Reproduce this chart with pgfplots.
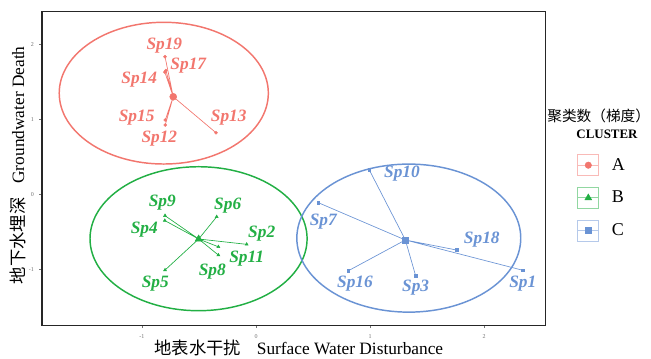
\documentclass[border=0pt]{standalone}
\usepackage{pgfplots}
\pgfplotsset{compat=1.18}
\usepackage{fontspec}
\setmainfont{Liberation Serif}
\newfontfamily\cjk{Noto Sans CJK SC}
\definecolor{cA}{HTML}{F2766E}
\definecolor{cB}{HTML}{22AF44}
\definecolor{cC}{HTML}{6A93D4}
\newcommand{\lab}{\fontsize{13}{15}\selectfont\bfseries\itshape}
\begin{document}
\begin{tikzpicture}
\begin{axis}[
  at={(31.5pt,24.5pt)}, anchor=south west,
  scale only axis, width=377.8pt, height=235.5pt,
  xmin=-1.877, xmax=2.541, ymin=-1.747, ymax=2.44,
  xtick={-1,0,1,2}, ytick={-1,0,1,2},
  tick pos=left, tick align=outside, major tick length=2pt,
  tick style={black!55, line width=0.4pt},
  axis line style={black!85, line width=0.8pt},
  ticklabel style={font=\fontsize{4.5}{5}\selectfont, text=black!55},
  xticklabel style={yshift=-1.5pt},
  yticklabel style={xshift=-0.5pt},
  /pgf/number format/assume math mode=true,
  xlabel={{\cjk 地表水干扰}\hspace{0.9em}Surface Water Disturbance},
  ylabel={{\cjk 地下水埋深}\hspace{0.8em}Groundwater Death},
  label style={font=\fontsize{13}{15}\selectfont},
  x label style={at={(axis description cs:0.51,-0.0723)}, anchor=center},
  y label style={at={(axis description cs:-0.0486,0.51)}, anchor=center, rotate=0},
  legend style={at={(axis description cs:1.0627,0.545)}, anchor=north west,
    draw=none, fill=none, inner sep=0pt, outer sep=0pt,
    font=\fontsize{13.5}{15}\selectfont,
    /tikz/row sep=8.0pt, /tikz/column sep=9.5pt,
    nodes={inner sep=0pt}},
  legend cell align=left,
]
% ellipses
\draw[cA, line width=1.1pt] (axis cs:-0.809,1.349) ellipse [x radius=0.917, y radius=0.945];
\draw[cB, line width=1.1pt] (axis cs:-0.504,-0.592) ellipse [x radius=0.952, y radius=0.96];
\draw[cC, line width=1.1pt] (axis cs:1.340,-0.584) ellipse [x radius=0.982, y radius=0.987];

% cluster A
\addplot[cA, line width=0.5pt, mark=none, forget plot] coordinates {
 (-0.726,1.301) (-0.798,1.835) (-0.726,1.301) (-0.790,1.650)
 (-0.726,1.301) (-0.800,1.630) (-0.726,1.301) (-0.796,0.991)
 (-0.726,1.301) (-0.796,0.924) (-0.726,1.301) (-0.351,0.821)};
\addplot[cA, only marks, mark=*, mark size=1.1pt, forget plot] coordinates {
 (-0.798,1.835) (-0.790,1.650) (-0.800,1.630) (-0.796,0.991) (-0.796,0.924) (-0.351,0.821)};
\addplot[cA, only marks, mark=*, mark size=2.6pt,
  legend image code/.code={
    \draw[cA!50, line width=0.7pt, fill=white] (0pt,-7.9pt) rectangle (15.8pt,7.9pt);
    \draw[cA!50, line width=0.7pt] (0pt,0pt) -- (15.8pt,0pt);
    \draw[cA] plot[mark=*, mark size=2.4pt, mark options={fill=cA, draw=cA}] coordinates {(7.9pt,0pt)};
  }] coordinates {(-0.726,1.301)};
\addlegendentry{A}

% cluster B
\addplot[cB, line width=0.5pt, mark=none, forget plot] coordinates {
 (-0.503,-0.596) (-0.798,-0.285) (-0.503,-0.596) (-0.800,-0.350)
 (-0.503,-0.596) (-0.345,-0.300) (-0.503,-0.596) (-0.082,-0.667)
 (-0.503,-0.596) (-0.330,-0.700) (-0.503,-0.596) (-0.330,-0.810)
 (-0.503,-0.596) (-0.798,-1.010)};
\addplot[cB, only marks, mark=triangle*, mark size=1.3pt, forget plot] coordinates {
 (-0.798,-0.285) (-0.800,-0.350) (-0.345,-0.300) (-0.082,-0.667)
 (-0.330,-0.700) (-0.330,-0.810) (-0.798,-1.010)};
\addplot[cB, only marks, mark=triangle*, mark size=3.0pt,
  legend image code/.code={
    \draw[cB!50, line width=0.7pt, fill=white] (0pt,-7.9pt) rectangle (15.8pt,7.9pt);
    \draw[cB!50, line width=0.7pt] (0pt,0pt) -- (15.8pt,0pt);
    \draw[cB] plot[mark=triangle*, mark size=2.9pt, mark options={fill=cB, draw=cB}] coordinates {(7.9pt,0pt)};
  }] coordinates {(-0.503,-0.596)};
\addlegendentry{B}

% cluster C
\addplot[cC, line width=0.5pt, mark=none, forget plot] coordinates {
 (1.310,-0.609) (0.994,0.324) (1.310,-0.609) (0.547,-0.112)
 (1.310,-0.609) (1.760,-0.743) (1.310,-0.609) (2.340,-1.013)
 (1.310,-0.609) (0.810,-1.019) (1.310,-0.609) (1.400,-1.085)};
\addplot[cC, only marks, mark=square*, mark size=1.0pt, forget plot] coordinates {
 (0.994,0.324) (0.547,-0.112) (1.760,-0.743) (2.340,-1.013) (0.810,-1.019) (1.400,-1.085)};
\addplot[cC, only marks, mark=square*, mark size=2.4pt,
  legend image code/.code={
    \draw[cC!50, line width=0.7pt, fill=white] (0pt,-7.9pt) rectangle (15.8pt,7.9pt);
    \draw[cC!50, line width=0.7pt] (0pt,0pt) -- (15.8pt,0pt);
    \draw[cC] plot[mark=square*, mark size=2.3pt, mark options={fill=cC, draw=cC}] coordinates {(7.9pt,0pt)};
  }] coordinates {(1.310,-0.609)};
\addlegendentry{C}

% labels
\node[font=\lab, text=cA] at (axis cs:-0.804,1.98) {Sp19};
\node[font=\lab, text=cA] at (axis cs:-0.594,1.71) {Sp17};
\node[font=\lab, text=cA] at (axis cs:-1.024,1.534) {Sp14};
\node[font=\lab, text=cA] at (axis cs:-1.047,1.02) {Sp15};
\node[font=\lab, text=cA] at (axis cs:-0.848,0.747) {Sp12};
\node[font=\lab, text=cA] at (axis cs:-0.239,1.02) {Sp13};
\node[font=\lab, text=cB] at (axis cs:-0.822,-0.107) {Sp9};
\node[font=\lab, text=cB] at (axis cs:-0.248,-0.147) {Sp6};
\node[font=\lab, text=cB] at (axis cs:-0.980,-0.476) {Sp4};
\node[font=\lab, text=cB] at (axis cs:0.050,-0.529) {Sp2};
\node[font=\lab, text=cB] at (axis cs:-0.082,-0.853) {Sp11};
\node[font=\lab, text=cB] at (axis cs:-0.383,-1.031) {Sp8};
\node[font=\lab, text=cB] at (axis cs:-0.883,-1.185) {Sp5};
\node[font=\lab, text=cC] at (axis cs:1.280,0.271) {Sp10};
\node[font=\lab, text=cC] at (axis cs:0.590,-0.365) {Sp7};
\node[font=\lab, text=cC] at (axis cs:1.980,-0.600) {Sp18};
\node[font=\lab, text=cC] at (axis cs:0.868,-1.185) {Sp16};
\node[font=\lab, text=cC] at (axis cs:1.400,-1.250) {Sp3};
\node[font=\lab, text=cC] at (axis cs:2.340,-1.185) {Sp1};
\end{axis}
\node[font=\cjk\fontsize{11}{13}\selectfont] at (449pt,181.7pt) {聚类数（梯度）};
\node[font=\fontsize{9.7}{11}\selectfont\bfseries] at (455.25pt,167.5pt) {CLUSTER};
\pgfresetboundingbox
\useasboundingbox (0pt,0pt) rectangle (488.25pt,268.5pt);
\end{tikzpicture}
\end{document}
